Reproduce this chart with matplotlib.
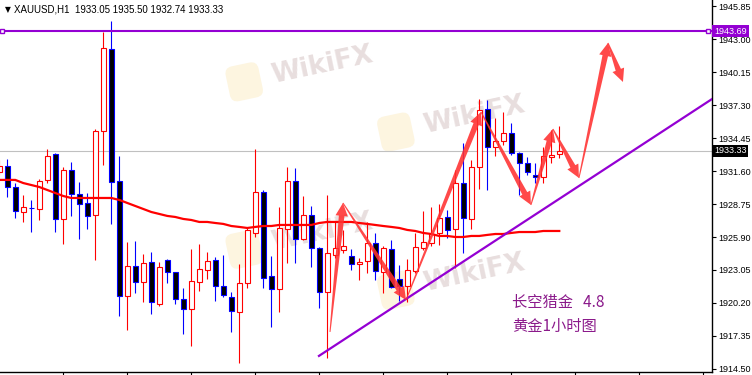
import numpy as np
import matplotlib
matplotlib.use('Agg')
import matplotlib.pyplot as plt
from matplotlib.patches import Rectangle, Polygon
from matplotlib.transforms import IdentityTransform, blended_transform_factory

# XAUUSD H1 candles (oldest first, first one is cut at the left edge)
opens = [1931.52, 1932.03, 1930.22, 1928.06, 1928.41, 1928.32, 1930.83, 1933.07, 1927.46, 1931.69,
         1929.62, 1928.84, 1927.80, 1935.06, 1942.14, 1930.74, 1920.81, 1923.40, 1922.02, 1923.74,
         1920.12, 1923.92, 1922.88, 1920.55, 1919.69, 1922.02, 1923.05, 1923.92, 1921.67, 1920.72,
         1919.43, 1921.93, 1926.25, 1929.79, 1922.53, 1921.41, 1926.59, 1930.74, 1925.73, 1927.80,
         1924.95, 1921.15, 1924.35, 1924.78, 1924.26, 1923.57, 1923.83, 1925.38, 1922.88, 1924.87,
         1922.28, 1921.67, 1922.97, 1924.95, 1925.38, 1926.25, 1927.63, 1926.59, 1930.56, 1927.46,
         1931.95, 1936.96, 1933.68, 1934.19, 1934.88, 1933.16, 1932.29, 1931.26, 1931.08, 1932.85,
         1933.05]
highs = [1932.55, 1932.64, 1930.56, 1929.53, 1929.10, 1930.91, 1933.50, 1933.16, 1931.95, 1932.38,
         1930.65, 1929.70, 1935.23, 1943.61, 1944.56, 1932.90, 1925.47, 1925.56, 1924.43, 1924.61,
         1923.74, 1924.00, 1922.90, 1921.50, 1924.87, 1925.30, 1924.61, 1924.17, 1924.35, 1921.15,
         1923.57, 1926.77, 1933.50, 1929.96, 1924.26, 1928.49, 1931.95, 1931.86, 1929.44, 1928.58,
         1925.00, 1929.53, 1927.20, 1926.51, 1924.87, 1924.09, 1927.20, 1926.25, 1925.13, 1925.64,
         1923.48, 1924.00, 1926.25, 1928.15, 1928.49, 1928.75, 1928.23, 1931.69, 1934.02, 1932.55,
         1937.82, 1937.73, 1936.18, 1936.70, 1935.75, 1933.24, 1932.81, 1932.29, 1933.68, 1935.14,
         1935.50]
lows = [1931.26, 1929.36, 1927.54, 1927.20, 1926.33, 1927.37, 1930.56, 1926.33, 1925.30, 1927.72,
        1925.73, 1926.59, 1923.92, 1932.12, 1927.03, 1919.08, 1917.89, 1921.07, 1920.29, 1919.25,
        1919.94, 1921.93, 1920.12, 1917.53, 1916.49, 1921.24, 1922.28, 1920.38, 1920.72, 1917.70,
        1915.02, 1921.50, 1925.90, 1921.50, 1918.13, 1919.43, 1923.66, 1923.66, 1925.64, 1923.31,
        1919.77, 1915.45, 1924.10, 1924.52, 1923.05, 1922.19, 1922.79, 1922.19, 1921.07, 1921.50,
        1920.38, 1920.29, 1922.80, 1924.78, 1925.13, 1925.20, 1925.82, 1923.22, 1924.52, 1926.59,
        1930.05, 1929.96, 1932.90, 1933.85, 1932.98, 1929.53, 1931.26, 1930.56, 1930.56, 1932.29,
        1932.74]
closes = [1932.03, 1930.22, 1928.15, 1928.49, 1928.38, 1930.74, 1932.90, 1927.46, 1931.69, 1929.62,
          1928.75, 1927.72, 1935.06, 1942.22, 1930.65, 1920.81, 1923.40, 1922.02, 1923.66, 1920.29,
          1923.31, 1922.88, 1920.55, 1919.69, 1922.10, 1923.14, 1923.83, 1921.67, 1920.89, 1919.51,
          1921.93, 1926.51, 1929.79, 1922.36, 1921.41, 1926.68, 1930.74, 1925.73, 1927.80, 1924.95,
          1921.15, 1924.52, 1924.95, 1925.13, 1923.57, 1923.74, 1925.38, 1922.97, 1924.95, 1921.58,
          1921.67, 1923.05, 1925.04, 1925.47, 1926.16, 1927.54, 1926.51, 1930.56, 1927.54, 1931.95,
          1936.87, 1933.68, 1934.19, 1934.88, 1933.16, 1932.29, 1931.52, 1931.08, 1932.90, 1932.95,
          1933.33]
ma = [1930.83, 1930.83, 1930.83, 1930.56, 1930.39, 1930.22, 1929.96, 1929.70, 1929.44, 1929.27,
      1929.27, 1929.27, 1929.27, 1929.27, 1929.27, 1929.10, 1928.84, 1928.58, 1928.32, 1928.06,
      1927.89, 1927.72, 1927.63, 1927.46, 1927.37, 1927.20, 1927.20, 1927.11, 1927.03, 1926.85,
      1926.77, 1926.68, 1926.77, 1926.85, 1926.85, 1926.94, 1926.94, 1926.94, 1926.94, 1926.94,
      1927.11, 1927.20, 1927.20, 1927.20, 1927.20, 1927.11, 1927.03, 1926.94, 1926.85, 1926.77,
      1926.68, 1926.51, 1926.42, 1926.25, 1926.16, 1925.99, 1925.99, 1925.90, 1925.90, 1925.99,
      1925.99, 1926.08, 1926.16, 1926.16, 1926.25, 1926.33, 1926.33, 1926.33, 1926.42, 1926.42,
      1926.42]

# drawn objects: resistance level, rising trend line, projected path arrows
level = 1943.69
last_price = 1933.33
trend_x = [38.96, 88.1]
trend_y = [1915.63, 1937.82]
path_x = [40.34, 41.96, 49.84, 59.21, 65.46, 68.21, 71.46, 75.09, 76.96]
path_y = [1917.70, 1928.84, 1920.46, 1936.70, 1928.67, 1935.23, 1931.00, 1942.66, 1939.29]

price_ticks = [1914.50, 1917.35, 1920.20, 1923.05, 1925.90, 1928.75, 1931.60,
               1934.45, 1937.30, 1940.15, 1943.00, 1945.85]
header = 'XAUUSD,H1  1933.05 1935.50 1932.74 1933.33'
note_lines = ['长空猎金   4.8', '黄金1小时图']

BULL = '#ff0000'
BEAR = '#0000ff'
PURPLE = '#9400d3'
AXFONT = 'Liberation Sans'

fig = plt.figure(figsize=(7.52, 3.75), dpi=100)
ax = fig.add_axes([0, 3 / 375, 712 / 752, 372 / 375])
ax.set_xlim(-0.91, 88.09)
ax.set_ylim(1914.24, 1946.37)
ax.set_autoscale_on(False)

x = np.arange(len(opens)) - 1

# watermarks
for wx, wy in [(0.343, 0.78), (0.556, 0.645), (0.343, 0.33), (0.556, 0.22)]:
    ax.text(wx, wy, '\u2009\u2009\u2009\u2009', transform=ax.transAxes, fontsize=16, rotation=12,
            ha='center', va='center', zorder=0.5,
            bbox=dict(boxstyle='round,pad=0.35', fc='#fdf5e0', ec='none'))
    ax.text(wx + 0.11, wy + 0.045, 'WikiFX', transform=ax.transAxes, fontsize=19,
            fontweight='bold', rotation=12, ha='center', va='center', color='#e8dede',
            zorder=0.6)

# candles
for xi, o, h, l, c in zip(x, opens, highs, lows, closes):
    up = c > o
    col = BULL if up else BEAR
    ax.vlines(xi, l, h, color=col, lw=0.8, zorder=2)
    if abs(c - o) < 0.06:
        ax.hlines(o, xi - 0.3, xi + 0.3, color=col, lw=0.8, zorder=3)
    else:
        ax.add_patch(Rectangle((xi - 0.3, min(o, c)), 0.6, abs(c - o),
                               facecolor='white' if up else 'black', edgecolor=col,
                               lw=0.8, zorder=3))

ax.plot(x, ma, color='#ff0000', lw=1.6, zorder=4)

# current price + level
ax.axhline(last_price, color='#c0c0c0', lw=0.8, zorder=1)
ax.axhline(level, color=PURPLE, lw=1.5, zorder=4)
ax.plot([-0.7, 87.55], [level, level], ls='none', marker='s', ms=3.5,
        mfc='white', mec=PURPLE, mew=1.0, zorder=5, clip_on=False)

# trend line
ax.plot(trend_x, trend_y, color=PURPLE, lw=1.6, zorder=4)

# projected path arrows (tapered shafts drawn in pixel space)
for i in range(len(path_x) - 1):
    a = ax.transData.transform((path_x[i], path_y[i]))
    b = ax.transData.transform((path_x[i + 1], path_y[i + 1]))
    d = b - a
    u = d / np.hypot(*d)
    n = np.array([-u[1], u[0]])
    base = b - u * 13
    pts = [a + n * 0.5, base + n * 2.8, base + n * 6.2, b,
           base - n * 6.2, base - n * 2.8, a - n * 0.5]
    ax.add_patch(Polygon(pts, closed=True, transform=IdentityTransform(),
                         facecolor='#ff3030', edgecolor='none', alpha=0.88, zorder=6))

# axes styling
for s in ['top', 'left']:
    ax.spines[s].set_visible(False)
ax.spines['right'].set_linewidth(1.0)
ax.spines['bottom'].set_linewidth(1.0)
ax.yaxis.tick_right()
ax.set_yticks(price_ticks)
ax.set_yticklabels(['%.2f' % t for t in price_ticks], family=AXFONT)
ax.tick_params(axis='y', direction='out', length=3, width=0.8, labelsize=6.5, pad=1.5)
ax.set_xticks(np.arange(7, 88, 8))
ax.set_xticklabels([])
ax.tick_params(axis='x', direction='out', length=3, width=0.8)

tr = blended_transform_factory(ax.transAxes, ax.transData)
ax.text(1.003, level, '%.2f' % level, transform=tr, fontsize=6.5, color='white',
        va='center', ha='left', zorder=10, clip_on=False, family=AXFONT,
        bbox=dict(boxstyle='square,pad=0.2', fc=PURPLE, ec='none'))
ax.text(1.003, last_price, '%.2f' % last_price, transform=tr, fontsize=6.5, color='white',
        va='center', ha='left', zorder=10, clip_on=False, family=AXFONT,
        bbox=dict(boxstyle='square,pad=0.2', fc='black', ec='none'))

# header + note
fig.text(5 / 752, 1 - 10 / 375, '\u25bc', fontsize=5.5, va='center', ha='left')
fig.text(14 / 752, 1 - 10 / 375, header, fontsize=7, va='center', ha='left', family=AXFONT)
for j, line in enumerate(note_lines):
    ax.text(512 / 712, 1 - (303 + 23 * j) / 372, line, transform=ax.transAxes,
            fontsize=11, color='#8b1a8b', va='center', ha='left',
            family=['Noto Sans CJK SC', 'DejaVu Sans'], zorder=7)

fig.savefig('out.png', dpi=100)
